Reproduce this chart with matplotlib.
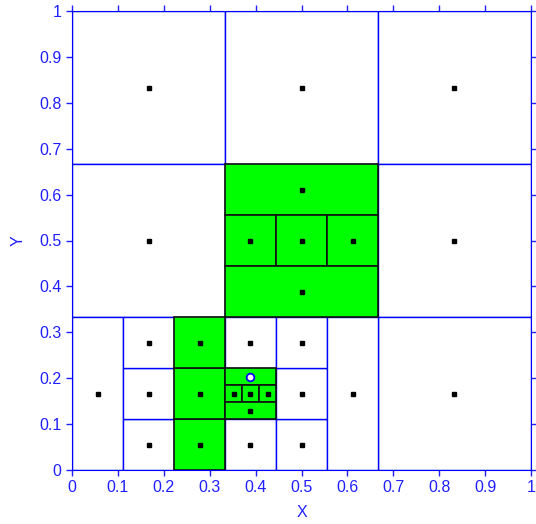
import numpy as np
import matplotlib.pyplot as plt
from matplotlib.patches import Rectangle

# rectangles of the partition (fractions of the unit square)
rect_x0 = [0, 1/3, 2/3, 0, 2/3, 2/3, 0, 1/9, 1/9, 1/9, 1/3, 1/3, 4/9, 4/9, 4/9, 5/9,
           1/3, 1/3, 4/9, 5/9, 1/3, 2/9, 2/9, 2/9, 1/3, 1/3, 10/27, 11/27, 1/3]
rect_y0 = [2/3, 2/3, 2/3, 1/3, 1/3, 0, 0, 0, 1/9, 2/9, 0, 2/9, 0, 1/9, 2/9, 0,
           5/9, 4/9, 4/9, 4/9, 1/3, 0, 1/9, 2/9, 5/27, 4/27, 4/27, 4/27, 3/27]
rect_w = [1/3, 1/3, 1/3, 1/3, 1/3, 1/3, 1/9, 1/9, 1/9, 1/9, 1/9, 1/9, 1/9, 1/9, 1/9, 1/9,
          1/3, 1/9, 1/9, 1/9, 1/3, 1/9, 1/9, 1/9, 1/9, 1/27, 1/27, 1/27, 1/9]
rect_h = [1/3, 1/3, 1/3, 1/3, 1/3, 1/3, 1/3, 1/9, 1/9, 1/9, 1/9, 1/9, 1/9, 1/9, 1/9, 1/3,
          1/9, 1/9, 1/9, 1/9, 1/9, 1/9, 1/9, 1/9, 1/27, 1/27, 1/27, 1/27, 1/27]
potential = [0]*16 + [1]*13   # 1 = potentially optimal (green)
best = 24                     # index of best rectangle

blue = '#0000ff'

fig = plt.figure(figsize=(5.36, 5.24), dpi=100)
ax = fig.add_axes([72/536, 54/524, 459/536, 459/524])

for i in range(len(rect_x0)):
    if potential[i]:
        r = Rectangle((rect_x0[i], rect_y0[i]), rect_w[i], rect_h[i],
                      facecolor='#00ff00', edgecolor='#101010', lw=1.2, zorder=2)
    else:
        r = Rectangle((rect_x0[i], rect_y0[i]), rect_w[i], rect_h[i],
                      facecolor='white', edgecolor=blue, lw=1.0, zorder=1)
    ax.add_patch(r)

cx = np.array(rect_x0) + np.array(rect_w) / 2
cy = np.array(rect_y0) + np.array(rect_h) / 2
mask = np.arange(len(cx)) != best
ax.plot(cx[mask], cy[mask], 's', color='black', ms=2.6, zorder=3)
ax.plot(cx[best], cy[best], 'o', mfc='white', mec=blue, mew=1.3, ms=5.5, zorder=4)

ax.set_xlim(0, 1)
ax.set_ylim(0, 1)
ticks = np.arange(0, 11) / 10
labels = ['0'] + ['%.1f' % t for t in ticks[1:-1]] + ['1']
ax.set_xticks(ticks)
ax.set_xticklabels(labels)
ax.set_yticks(ticks)
ax.set_yticklabels(labels)
ax.tick_params(direction='out', length=4, width=1, colors='#2020ff', labelsize=11.5,
               top=True, right=True)
for lab in ax.get_xticklabels() + ax.get_yticklabels():
    lab.set_family('Liberation Sans')
for s in ax.spines.values():
    s.set_color(blue)
ax.set_xlabel('X', color='#2020ff', fontsize=11.5, family='Liberation Sans', labelpad=7)
ax.set_ylabel('Y', color='#2020ff', fontsize=11.5, family='Liberation Sans', labelpad=10)

plt.savefig('out.png', dpi=100)
